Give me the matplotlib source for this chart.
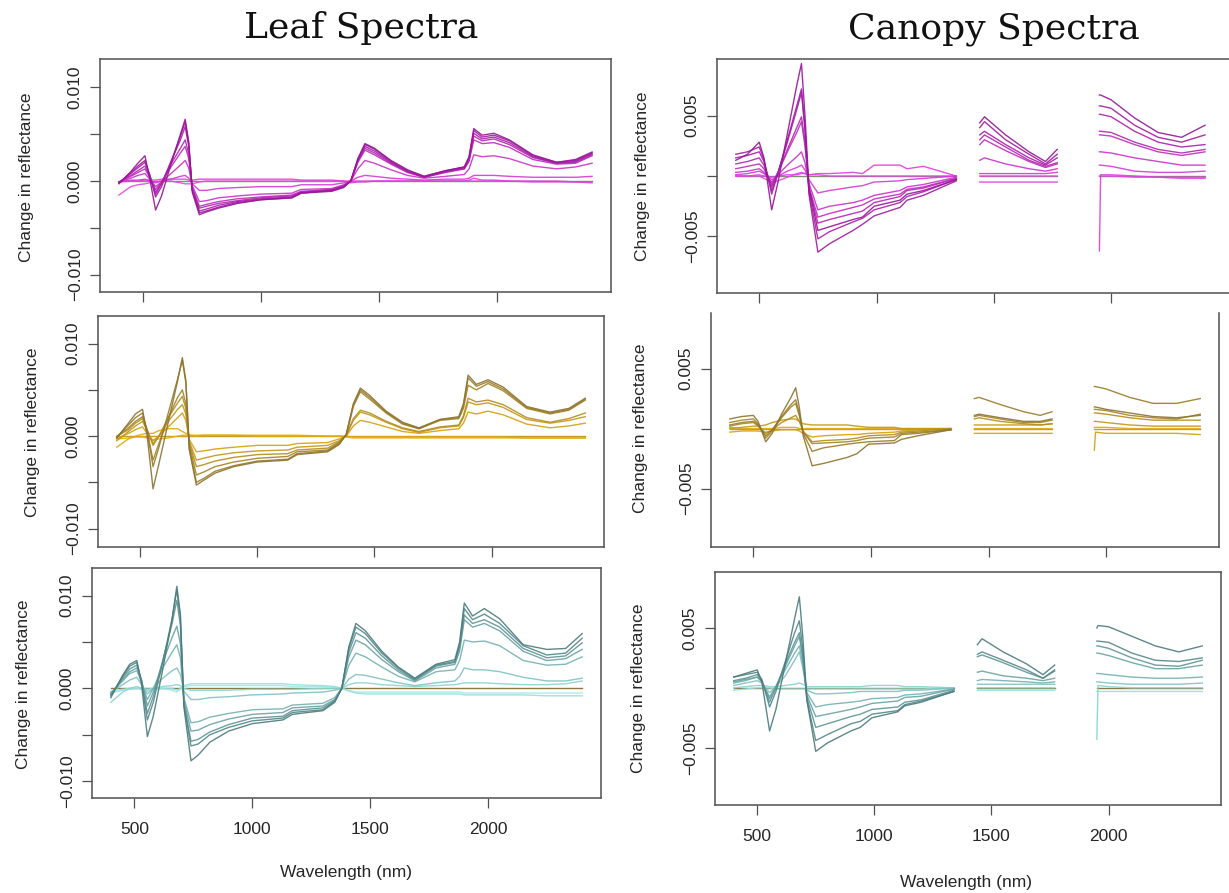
import numpy as np
import matplotlib.pyplot as plt

nan = np.nan

leaf_wl = [400, 450, 480, 510, 530, 555, 580, 620, 660, 680,
           695, 710, 740, 770, 820, 900, 1000, 1130, 1170, 1300,
           1350, 1380, 1410, 1440, 1480, 1550, 1620, 1690, 1780, 1860,
           1880, 1900, 1935, 1985, 2050, 2150, 2250, 2330, 2400]
# canopy spectra have the water bands removed (nan columns at 1390 and 1860)
canopy_wl = [400, 450, 500, 520, 553, 580, 620, 660, 680, 695,
             712, 750, 800, 900, 940, 990, 1100, 1130, 1200, 1340,
             1390, 1440, 1460, 1550, 1650, 1720, 1770, 1860, 1950, 1955,
             2000, 2100, 2200, 2300, 2400]

# change in reflectance, in units of 1e-3; strongest curve first
leaf_magenta = [
    [-0.3, 1.0, 1.9, 2.7, 0.3, -3.1, -1.6, 1.8, 5.0, 6.6, 4.2, -1.2, -3.6, -3.3, -2.9, -2.4, -2.0, -1.8, -1.3, -1.1, -0.7, 0.0, 2.4, 4.0, 3.5, 2.2, 1.2, 0.5, 1.1, 1.5, 2.6, 5.6, 4.9, 5.1, 4.4, 2.8, 2.0, 2.3, 3.1],
    [-0.2, 0.9, 1.6, 2.2, 0.6, -1.7, -0.6, 2.0, 4.8, 6.3, 4.0, -1.0, -3.4, -3.2, -2.8, -2.3, -2.0, -1.8, -1.3, -1.0, -0.6, 0.0, 2.3, 3.9, 3.4, 2.1, 1.1, 0.5, 1.1, 1.5, 2.5, 5.4, 4.7, 4.9, 4.3, 2.7, 2.0, 2.2, 3.0],
    [-0.2, 0.8, 1.4, 2.0, 0.7, -1.4, -0.3, 2.1, 4.4, 5.8, 3.7, -0.9, -3.2, -3.0, -2.6, -2.2, -1.9, -1.7, -1.2, -1.0, -0.6, 0.0, 2.2, 3.7, 3.2, 2.0, 1.0, 0.4, 1.0, 1.4, 2.4, 5.1, 4.5, 4.7, 4.1, 2.6, 1.9, 2.1, 2.9],
    [-0.1, 0.6, 1.1, 1.6, 0.5, -1.2, -0.2, 1.8, 3.5, 4.4, 2.9, -0.8, -2.9, -2.7, -2.4, -2.1, -1.8, -1.6, -1.2, -0.9, -0.5, 0.0, 2.1, 3.5, 3.0, 1.9, 1.0, 0.4, 1.0, 1.3, 2.2, 4.8, 4.3, 4.5, 3.9, 2.5, 1.9, 2.0, 2.8],
    [-0.1, 0.5, 0.9, 1.3, 0.4, -0.9, -0.1, 1.5, 3.0, 3.7, 2.4, -0.7, -2.7, -2.5, -2.2, -1.9, -1.7, -1.5, -1.1, -0.9, -0.5, 0.0, 2.0, 3.3, 2.8, 1.8, 0.9, 0.4, 0.9, 1.3, 2.1, 4.4, 4.0, 4.1, 3.6, 2.3, 1.8, 1.9, 2.7],
    [-0.1, 0.3, 0.6, 0.8, 0.2, -0.6, -0.1, 0.8, 1.7, 2.2, 1.4, -0.5, -2.2, -2.1, -1.8, -1.6, -1.4, -1.3, -0.9, -0.8, -0.4, 0.0, 1.3, 2.2, 1.9, 1.2, 0.6, 0.3, 0.5, 0.7, 1.3, 2.8, 2.6, 2.7, 2.4, 1.6, 1.3, 1.5, 1.9],
    [-0.1, 0.1, 0.1, 0.2, 0.0, -0.2, 0.0, 0.2, 0.5, 0.6, 0.3, -0.3, -1.0, -1.0, -0.8, -0.7, -0.6, -0.6, -0.4, -0.4, -0.2, 0.0, 0.4, 0.6, 0.5, 0.3, 0.2, 0.1, 0.2, 0.2, 0.3, 0.6, 0.6, 0.6, 0.5, 0.4, 0.4, 0.4, 0.5],
    [-0.1, 0.0, 0.0, 0.1, 0.1, 0.1, 0.2, 0.2, 0.2, 0.2, 0.1, 0.1, 0.2, 0.2, 0.2, 0.2, 0.2, 0.2, 0.1, 0.1, 0.0, -0.2, -0.1, -0.1, 0.0, 0.0, 0.0, 0.0, 0.0, 0.0, 0.1, 0.3, 0.1, 0.1, 0.0, 0.0, 0.0, -0.1, -0.1],
    [-1.5, -0.6, -0.4, -0.3, -0.2, -0.1, 0.0, 0.0, -0.2, -0.3, -0.3, -0.3, -0.1, 0.0, 0.0, 0.0, 0.0, 0.0, 0.0, 0.0, 0.0, 0.0, 0.0, 0.0, 0.0, 0.0, 0.0, 0.0, 0.0, 0.0, 0.0, 0.0, 0.0, 0.0, 0.0, -0.1, -0.1, -0.1, -0.2],
]
leaf_gold = [
    [-0.2, 1.4, 2.4, 2.9, 0.0, -5.7, -3.0, 1.5, 6.0, 8.5, 6.0, -1.5, -5.3, -4.8, -4.0, -3.3, -2.8, -2.6, -2.0, -1.7, -0.9, 0.2, 3.5, 5.2, 4.4, 2.7, 1.5, 0.9, 1.8, 2.1, 3.5, 6.6, 5.6, 6.1, 5.3, 3.2, 2.6, 3.0, 4.1],
    [-0.1, 1.2, 2.0, 2.5, 0.6, -3.3, -1.2, 2.5, 6.2, 8.2, 5.8, -1.4, -5.0, -4.6, -3.8, -3.2, -2.7, -2.5, -1.9, -1.6, -0.8, 0.2, 3.4, 5.0, 4.2, 2.6, 1.4, 0.8, 1.8, 2.0, 3.3, 6.3, 5.4, 5.9, 5.1, 3.1, 2.5, 2.9, 4.0],
    [-0.1, 0.9, 1.6, 2.1, 0.5, -2.6, -0.8, 2.0, 4.2, 5.0, 3.5, -1.0, -4.2, -3.9, -3.3, -2.8, -2.4, -2.2, -1.7, -1.5, -0.7, 0.1, 3.2, 4.8, 4.0, 2.5, 1.3, 0.8, 1.7, 1.9, 3.0, 5.5, 5.0, 5.7, 4.9, 3.0, 2.4, 2.8, 3.9],
    [0.0, 0.7, 1.4, 1.9, 0.7, -1.0, 0.0, 2.0, 3.6, 4.3, 3.0, -0.8, -3.3, -3.1, -2.7, -2.3, -2.0, -1.9, -1.5, -1.3, -0.6, 0.1, 1.9, 2.8, 2.5, 1.6, 0.9, 0.5, 1.0, 1.2, 2.2, 4.1, 3.7, 3.9, 3.4, 2.0, 1.5, 1.9, 2.5],
    [-0.5, 0.5, 1.1, 1.6, 0.6, -0.8, 0.0, 1.6, 2.9, 3.4, 2.4, -0.6, -2.6, -2.4, -2.1, -1.8, -1.6, -1.5, -1.2, -1.0, -0.5, 0.1, 1.7, 2.6, 2.3, 1.5, 0.8, 0.4, 0.9, 1.1, 2.0, 3.7, 3.4, 3.6, 3.1, 1.8, 1.4, 1.7, 2.1],
    [-0.3, 0.3, 0.7, 1.0, 0.3, -0.5, 0.0, 1.0, 2.0, 2.5, 1.7, -0.4, -1.7, -1.6, -1.4, -1.2, -1.0, -1.0, -0.8, -0.7, -0.3, 0.0, 1.1, 1.7, 1.5, 1.0, 0.5, 0.3, 0.6, 0.8, 1.4, 2.6, 2.4, 2.7, 2.3, 1.3, 0.9, 1.1, 1.4],
    [-1.2, -0.3, 0.0, 0.2, 0.3, 0.3, 0.6, 0.8, 0.8, 0.5, 0.3, 0.1, 0.0, 0.1, 0.1, 0.1, 0.0, 0.0, 0.0, 0.0, 0.0, 0.0, -0.1, -0.1, -0.1, -0.1, -0.1, -0.1, -0.1, -0.1, -0.1, -0.1, -0.1, -0.1, -0.1, -0.2, -0.2, -0.2, -0.2],
    [-0.3, -0.2, -0.1, -0.1, -0.2, -0.4, -0.3, -0.2, 0.0, 0.1, 0.1, 0.1, 0.1, 0.1, 0.1, 0.1, 0.1, 0.1, 0.1, 0.0, 0.0, -0.1, -0.2, -0.2, -0.2, -0.2, -0.2, -0.2, -0.2, -0.2, -0.2, -0.2, -0.2, -0.2, -0.2, -0.2, -0.2, -0.2, -0.2],
]
leaf_teal = [
    [-1.0, 1.4, 2.6, 3.0, 0.5, -5.2, -3.0, 2.0, 7.5, 11.0, 8.0, -2.0, -7.8, -7.2, -5.8, -4.6, -3.8, -3.4, -2.8, -2.4, -1.5, 0.0, 4.5, 7.0, 6.2, 4.0, 2.3, 1.1, 2.6, 3.1, 5.0, 9.2, 7.8, 8.6, 7.5, 4.7, 4.2, 4.3, 5.9],
    [-0.8, 1.3, 2.4, 2.8, 0.8, -3.4, -1.5, 2.8, 7.5, 10.6, 7.6, -1.8, -6.2, -6.0, -5.0, -4.2, -3.5, -3.2, -2.6, -2.3, -1.4, 0.0, 4.3, 6.6, 5.9, 3.8, 2.2, 1.0, 2.5, 2.9, 4.7, 8.6, 7.4, 8.0, 7.0, 4.6, 3.6, 3.8, 5.4],
    [-0.7, 1.1, 2.1, 2.5, 0.9, -2.7, -0.9, 3.0, 7.0, 9.5, 6.8, -1.6, -5.7, -5.5, -4.7, -3.9, -3.2, -3.0, -2.4, -2.1, -1.3, 0.0, 3.9, 6.0, 5.4, 3.5, 2.0, 0.9, 2.4, 2.8, 4.4, 7.9, 7.0, 7.4, 6.6, 4.3, 3.3, 3.5, 4.9],
    [-0.6, 0.9, 1.8, 2.2, 0.9, -1.9, -0.4, 2.8, 5.5, 6.7, 4.8, -1.3, -4.6, -4.5, -3.9, -3.3, -2.8, -2.6, -2.1, -1.9, -1.2, 0.0, 3.4, 5.2, 4.7, 3.1, 1.8, 0.8, 2.2, 2.6, 4.0, 7.4, 6.6, 7.0, 6.2, 4.0, 3.0, 3.2, 4.2],
    [-0.5, 0.8, 1.6, 1.9, 0.7, -1.2, 0.0, 2.2, 3.9, 4.7, 3.3, -1.0, -3.7, -3.6, -3.1, -2.7, -2.3, -2.2, -1.8, -1.6, -1.0, 0.0, 2.5, 3.8, 3.4, 2.3, 1.3, 0.7, 1.8, 2.0, 3.0, 5.2, 5.0, 5.1, 4.6, 3.0, 2.5, 2.6, 3.4],
    [-0.4, 0.4, 0.9, 1.2, 0.4, -0.6, 0.0, 1.1, 1.9, 2.2, 1.5, -0.3, -1.2, -1.2, -1.0, -0.9, -0.7, -0.6, -0.5, -0.4, -0.2, 0.0, 1.0, 1.5, 1.4, 1.0, 0.6, 0.3, 0.6, 0.8, 1.3, 2.2, 2.0, 2.0, 1.8, 1.2, 0.8, 0.8, 1.1],
    [-1.5, -0.4, 0.0, 0.2, 0.0, -0.3, 0.0, 0.2, 0.3, 0.4, 0.3, 0.0, -0.2, -0.2, -0.2, -0.2, -0.1, -0.1, -0.1, 0.0, 0.0, 0.0, 0.4, 0.6, 0.6, 0.4, 0.3, 0.2, 0.3, 0.4, 0.5, 0.6, 0.6, 0.6, 0.5, 0.4, 0.4, 0.5, 0.8],
    [-0.5, -0.2, -0.1, 0.0, -0.1, -0.2, -0.1, 0.0, 0.0, -0.2, 0.0, 0.3, 0.5, 0.5, 0.5, 0.5, 0.5, 0.5, 0.4, 0.3, 0.2, 0.0, -0.3, -0.5, -0.6, -0.6, -0.6, -0.6, -0.6, -0.6, -0.6, -0.7, -0.7, -0.7, -0.7, -0.7, -0.8, -0.8, -0.8],
    [-0.3, -0.1, 0.0, 0.0, 0.0, -0.1, 0.0, 0.0, -0.2, -0.4, -0.1, 0.2, 0.3, 0.3, 0.3, 0.3, 0.3, 0.3, 0.2, 0.2, 0.1, 0.0, -0.2, -0.4, -0.4, -0.4, -0.4, -0.4, -0.4, -0.4, -0.4, -0.5, -0.5, -0.5, -0.5, -0.5, -0.5, -0.5, -0.5],
]
canopy_magenta = [
    [1.3, 1.8, 2.8, 1.5, -2.8, -0.5, 3.5, 7.5, 9.3, 5.0, -1.0, -4.5, -4.2, -3.6, -3.4, -2.5, -2.0, -1.5, -1.2, -0.3, nan, 4.4, 4.9, 3.4, 2.0, 1.2, 2.2, nan, 6.7, 6.7, 6.3, 4.8, 3.6, 3.2, 4.2],
    [1.8, 2.0, 2.4, 1.4, -1.5, 0.2, 3.0, 5.8, 7.2, 4.0, -1.5, -6.3, -5.6, -4.5, -4.0, -3.3, -2.6, -2.0, -1.6, -0.4, nan, 4.0, 4.5, 3.0, 1.8, 1.0, 1.8, nan, 5.8, 5.8, 5.6, 4.2, 3.2, 2.8, 3.4],
    [1.5, 1.7, 2.0, 1.2, -1.2, 0.3, 2.8, 5.5, 6.9, 3.8, -1.3, -5.2, -4.6, -3.8, -3.5, -2.8, -2.2, -1.7, -1.3, -0.3, nan, 3.4, 3.7, 2.6, 1.5, 0.9, 1.5, nan, 5.1, 5.1, 4.9, 3.7, 2.8, 2.4, 2.6],
    [1.0, 1.2, 1.5, 0.9, -0.9, 0.3, 2.2, 4.0, 4.9, 2.8, -1.0, -3.9, -3.6, -3.1, -2.9, -2.2, -1.7, -1.2, -1.0, -0.2, nan, 3.0, 3.4, 2.4, 1.3, 0.8, 1.1, nan, 3.7, 3.7, 3.6, 2.8, 2.2, 1.9, 2.2],
    [0.6, 0.8, 1.0, 0.6, -0.7, 0.3, 2.0, 3.6, 4.5, 2.5, -0.9, -3.4, -3.1, -2.6, -2.4, -1.9, -1.5, -1.1, -0.9, -0.2, nan, 2.6, 3.0, 2.1, 1.2, 0.7, 1.0, nan, 3.4, 3.4, 3.3, 2.6, 2.0, 1.7, 2.0],
    [0.3, 0.4, 0.6, 0.3, -0.5, 0.1, 0.9, 1.6, 2.0, 1.1, -0.6, -2.8, -2.5, -2.2, -2.0, -1.6, -1.2, -0.9, -0.7, -0.1, nan, 1.3, 1.5, 1.0, 0.6, 0.4, 0.6, nan, 2.0, 2.0, 1.9, 1.5, 1.2, 0.9, 0.9],
    [0.1, 0.2, 0.4, 0.2, -0.3, 0.0, 0.4, 0.7, 0.9, 0.5, -0.3, -1.4, -1.2, -0.9, -0.8, -0.5, -0.4, -0.3, -0.2, 0.0, nan, 0.2, 0.2, 0.2, 0.2, 0.2, 0.3, nan, 0.9, 0.9, 0.8, 0.4, 0.3, 0.3, 0.4],
    [0.0, 0.0, 0.1, 0.0, -0.1, 0.0, 0.1, 0.1, 0.2, 0.2, 0.1, 0.2, 0.2, 0.3, 0.2, 0.9, 0.9, 0.6, 0.8, 0.0, nan, -0.5, -0.5, -0.5, -0.5, -0.5, -0.5, nan, -6.2, 0.1, 0.1, 0.0, -0.1, -0.1, -0.1],
    [0.0, 0.0, 0.0, -0.2, -0.5, -0.4, -0.1, 0.2, 0.3, 0.2, 0.1, 0.1, 0.0, 0.0, 0.0, 0.0, 0.0, 0.0, 0.0, 0.0, nan, 0.0, 0.0, 0.0, 0.0, 0.0, 0.0, nan, 0.0, 0.0, 0.0, -0.1, -0.1, -0.2, -0.2],
]
canopy_gold = [
    [0.8, 1.0, 1.1, 0.6, -1.1, -0.4, 1.2, 2.6, 3.4, 1.8, -0.6, -3.1, -2.9, -2.4, -2.1, -1.3, -1.2, -0.9, -0.6, -0.1, nan, 1.1, 1.2, 0.9, 0.6, 0.6, 0.8, nan, 1.8, 1.8, 1.6, 1.3, 1.0, 0.9, 1.1],
    [0.3, 0.5, 0.6, 0.3, -0.6, -0.1, 1.0, 2.0, 2.4, 1.3, -0.4, -1.9, -1.6, -1.3, -1.2, -1.1, -1.0, -0.5, -0.4, -0.1, nan, 2.5, 2.6, 2.0, 1.4, 1.1, 1.4, nan, 3.5, 3.5, 3.3, 2.6, 2.1, 2.1, 2.5],
    [0.5, 0.7, 0.8, 0.4, -0.8, -0.2, 0.9, 1.8, 2.1, 1.1, -0.3, -1.25, -1.2, -1.1, -1.0, -0.8, -0.7, -0.4, -0.3, -0.1, nan, 1.0, 1.1, 0.8, 0.5, 0.5, 0.7, nan, 1.6, 1.6, 1.5, 1.1, 0.9, 0.8, 1.2],
    [0.2, 0.4, 0.5, 0.2, -0.4, -0.1, 0.5, 0.9, 1.1, 0.6, -0.2, -1.1, -1.0, -0.9, -0.8, -0.6, -0.5, -0.3, -0.2, 0.0, nan, 0.8, 0.9, 0.6, 0.4, 0.3, 0.4, nan, 1.3, 1.3, 1.2, 0.9, 0.7, 0.7, 0.7],
    [0.0, 0.1, 0.2, 0.2, 0.3, 0.5, 0.7, 0.8, 0.8, 0.6, 0.4, 0.3, 0.3, 0.3, 0.2, 0.1, 0.1, 0.0, 0.0, 0.0, nan, 0.3, 0.3, 0.3, 0.3, 0.3, 0.4, nan, 0.6, 0.6, 0.5, 0.3, 0.2, 0.2, 0.2],
    [-0.3, -0.2, -0.2, -0.2, -0.3, -0.2, -0.1, -0.1, -0.1, -0.2, -0.4, -0.7, -0.6, -0.5, -0.5, -0.4, -0.3, -0.2, -0.1, 0.0, nan, -0.4, -0.4, -0.4, -0.4, -0.4, -0.4, nan, -1.8, -0.3, -0.4, -0.4, -0.4, -0.4, -0.5],
    [0.1, 0.0, 0.0, 0.0, 0.0, 0.0, 0.1, 0.1, 0.1, 0.0, 0.0, 0.0, 0.0, 0.0, 0.0, 0.0, 0.0, 0.0, 0.0, 0.0, nan, 0.0, 0.0, 0.0, 0.0, 0.0, 0.0, nan, 0.1, 0.1, 0.1, 0.0, 0.0, 0.0, 0.0],
]
canopy_teal = [
    [0.9, 1.2, 1.5, 0.5, -3.6, -1.8, 2.0, 5.8, 7.6, 4.2, -1.0, -5.3, -4.6, -3.6, -3.3, -2.5, -2.0, -1.5, -1.2, -0.3, nan, 3.6, 4.1, 3.0, 2.0, 1.1, 1.9, nan, 5.0, 5.2, 5.1, 4.3, 3.5, 3.0, 3.5],
    [0.9, 1.1, 1.3, 0.7, -1.6, -0.3, 2.2, 4.6, 5.6, 3.2, -1.0, -4.4, -3.9, -3.0, -2.8, -2.2, -1.9, -1.4, -1.1, -0.3, nan, 2.8, 3.0, 2.3, 1.5, 0.8, 1.5, nan, 3.9, 3.9, 3.8, 2.9, 2.3, 2.2, 2.5],
    [0.6, 0.8, 1.1, 0.6, -1.2, 0.0, 2.0, 3.8, 4.6, 2.6, -0.8, -3.3, -3.0, -2.4, -2.2, -1.8, -1.6, -1.2, -1.0, -0.2, nan, 2.6, 2.75, 2.1, 1.3, 0.8, 1.4, nan, 3.5, 3.5, 3.3, 2.5, 1.9, 1.8, 2.3],
    [0.5, 0.7, 0.9, 0.5, -0.9, 0.1, 1.8, 3.5, 4.3, 2.4, -0.6, -2.4, -2.2, -1.8, -1.6, -1.3, -1.1, -0.8, -0.7, -0.1, nan, 1.3, 1.4, 1.0, 0.8, 0.6, 0.8, nan, 2.9, 2.9, 2.7, 2.1, 1.6, 1.6, 1.9],
    [0.4, 0.6, 0.9, 0.5, -0.75, 0.1, 1.5, 2.9, 3.5, 2.0, -0.4, -1.6, -1.4, -1.2, -1.1, -0.9, -0.8, -0.6, -0.5, -0.1, nan, 0.6, 0.7, 0.6, 0.5, 0.4, 0.5, nan, 1.2, 1.2, 1.1, 0.9, 0.8, 0.8, 0.9],
    [0.2, 0.4, 0.6, 0.4, -0.4, 0.1, 1.0, 2.3, 3.0, 1.6, -0.2, -0.5, -0.5, -0.4, -0.3, -0.3, -0.3, -0.2, -0.2, 0.0, nan, 0.3, 0.3, 0.3, 0.3, 0.3, 0.3, nan, 0.5, 0.5, 0.4, 0.3, 0.3, 0.3, 0.4],
    [0.0, 0.1, 0.2, 0.2, 0.1, 0.1, 0.2, 0.3, 0.4, 0.3, 0.1, 0.1, 0.1, 0.1, 0.1, 0.2, 0.2, 0.1, 0.1, 0.0, nan, 0.0, 0.0, 0.0, 0.0, 0.0, 0.0, nan, -4.3, 0.2, 0.1, 0.0, 0.0, 0.0, 0.0],
    [-0.2, -0.1, 0.0, 0.0, 0.0, -0.1, -0.1, -0.1, -0.1, -0.1, -0.1, -0.1, -0.1, -0.1, -0.1, -0.1, -0.1, -0.1, -0.1, 0.0, nan, -0.2, -0.2, -0.2, -0.2, -0.2, -0.2, nan, -0.3, -0.3, -0.3, -0.3, -0.3, -0.3, -0.3],
]

# dark -> light, one shade per curve
magenta_shades = ["#961696", "#A01BA0", "#AA20AA", "#B426B4", "#BE2CBE", "#C832C8", "#D438D4", "#DE3EDE", "#E845E8"]
gold_shades = ["#8C7330", "#987B2A", "#A48324", "#B48C1C", "#C49614", "#D4A00C", "#E2A806", "#ECAE02"]
teal_shades = ["#4B7B7C", "#548788", "#5E9495", "#68A2A3", "#74B1B2", "#80C1C2", "#8CD2D2", "#96DEDE", "#A0E8E8"]

UNIT = 1e-3
W, H = 1229, 893

plt.rcParams["font.family"] = "Liberation Sans"
fig = plt.figure(figsize=(W / 100, H / 100), dpi=100)


def add_panel(box, ylim, ytick_vals, ytick_text, xlim=(320, 2480), show_xlabels=False, hide=()):
    # box is (left, top, right, bottom) in pixels of the final image
    l, t, r, b = box
    ax = fig.add_axes([l / W, 1 - b / H, (r - l) / W, (b - t) / H])
    ax.set_xlim(*xlim)
    ax.set_ylim(*ylim)
    for side in ax.spines:
        ax.spines[side].set_color("#505050")
        ax.spines[side].set_linewidth(1.1)
    for side in hide:
        ax.spines[side].set_visible(False)
    ax.set_xticks([500, 1000, 1500, 2000])
    ax.set_yticks(ytick_vals)
    ax.set_yticklabels(ytick_text, rotation=90, va="center")
    if show_xlabels:
        ax.set_xticklabels(["500", "1000", "1500", "2000"])
    else:
        ax.set_xticklabels([])
    ax.tick_params(direction="out", length=7.5, width=0.9, color="#505050",
                   labelsize=12.5, labelcolor="#262626")
    ax.tick_params(axis="y", pad=5)
    ax.tick_params(axis="x", pad=10)
    return ax


def draw_curves(ax, wl, curves, shades, zero_color):
    wl = np.array(wl)
    first = np.array(curves[0], dtype=float)
    zero = np.where(np.isnan(first), nan, 0.0)
    ax.plot(wl, zero, color=zero_color, lw=1.0)
    # lightest curves first so the strong ones sit on top
    for vals, col in reversed(list(zip(curves, shades))):
        ax.plot(wl, np.array(vals, dtype=float) * UNIT, color=col, lw=1.0, alpha=0.9)


leaf_ticks = [-0.010, -0.005, 0.0, 0.005, 0.010]
leaf_tick_text = ["\u22120.010", "", "0.000", "", "0.010"]
canopy_ticks = [-0.005, 0.0, 0.005]
canopy_tick_text = ["\u22120.005", "", "0.005"]

panels = [
    # leaf column
    (add_panel((100, 59, 611, 292), (-0.01186, 0.01304), leaf_ticks, leaf_tick_text),
     leaf_wl, leaf_magenta, magenta_shades, "#7F8F70"),
    (add_panel((98, 316, 604, 547), (-0.0120, 0.0130), leaf_ticks, leaf_tick_text),
     leaf_wl, leaf_gold, gold_shades, "#C89A30"),
    (add_panel((92, 568, 601, 798), (-0.01181, 0.01297), leaf_ticks, leaf_tick_text, show_xlabels=True),
     leaf_wl, leaf_teal, teal_shades, "#8A7A40"),
    # canopy column
    (add_panel((717, 59, 1232, 293), (-0.00968, 0.00968), canopy_ticks, canopy_tick_text,
               xlim=(320, 2515), hide=("right",)),
     canopy_wl, canopy_magenta, magenta_shades, "#7F8F70"),
    (add_panel((711, 313, 1219, 547), (-0.00987, 0.00963), canopy_ticks, canopy_tick_text, hide=("top",)),
     canopy_wl, canopy_gold, gold_shades, "#C89A30"),
    (add_panel((715, 572, 1221, 805), (-0.00978, 0.00967), canopy_ticks, canopy_tick_text, show_xlabels=True),
     canopy_wl, canopy_teal, teal_shades, "#8A7A40"),
]

for ax, wl, curves, shades, zc in panels:
    draw_curves(ax, wl, curves, shades, zc)

# y-axis titles (pixel centres)
ylabel_pos = [(27, 177), (33, 432), (24, 684), (643, 176), (641, 428), (639, 688)]
for x, y in ylabel_pos:
    fig.text(x / W, 1 - y / H, "Change in reflectance", rotation=90, ha="center", va="center",
             fontsize=12.5, color="#262626")

fig.text(346 / W, 1 - 872 / H, "Wavelength (nm)", ha="center", va="center", fontsize=12.5, color="#262626")
fig.text(966 / W, 1 - 882 / H, "Wavelength (nm)", ha="center", va="center", fontsize=12.5, color="#262626")

fig.text(361 / W, 1 - 38 / H, "Leaf Spectra", ha="center", va="baseline",
         family="DejaVu Serif", fontsize=26, color="#111111")
fig.text(994 / W, 1 - 38 / H, "Canopy Spectra", ha="center", va="baseline",
         family="DejaVu Serif", fontsize=26, color="#111111")

fig.savefig("out.png", dpi=100)
